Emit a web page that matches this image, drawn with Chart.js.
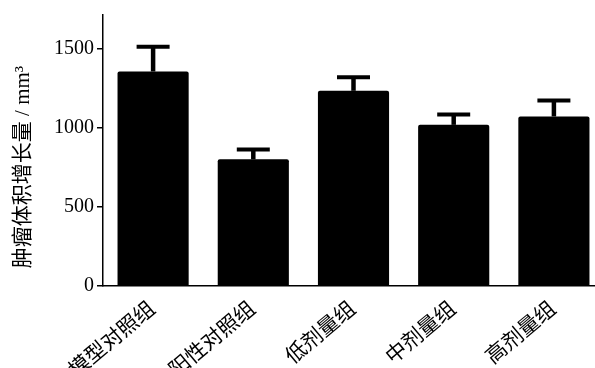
<!DOCTYPE html>
<html><head><meta charset="utf-8">
<script src="https://cdn.jsdelivr.net/npm/chart.js@4/dist/chart.umd.min.js"></script>
<style>html,body{margin:0;padding:0;overflow:hidden;background:#fff}#wrap{width:605px;height:368px}</style>
</head><body><div id="wrap"><canvas id="c"></canvas></div>
<script>
const categories = ['模型对照组','阳性对照组','低剂量组','中剂量组','高剂量组'];
const means = [1355, 800, 1233, 1018, 1071];
const errors = [157, 63, 86, 66, 101];
const yTicks = [0, 500, 1000, 1500];
const yTitle = '肿瘤体积增长量 / mm³';

const FONT = '"Liberation Serif", "Noto Sans CJK SC", serif';

const errPlugin = {
  id: 'errbars',
  afterDatasetsDraw(chart) {
    const ctx = chart.ctx, y = chart.scales.y;
    const meta = chart.getDatasetMeta(0);
    ctx.save();
    ctx.strokeStyle = '#000';
    meta.data.forEach((bar, i) => {
      const top = y.getPixelForValue(means[i] + errors[i]);
      const base = y.getPixelForValue(means[i]);
      ctx.lineWidth = 4.5;
      ctx.beginPath(); ctx.moveTo(bar.x, base); ctx.lineTo(bar.x, top); ctx.stroke();
      ctx.lineWidth = 4;
      ctx.beginPath(); ctx.moveTo(bar.x - 16.5, top); ctx.lineTo(bar.x + 16.5, top); ctx.stroke();
    });
    ctx.restore();
  },
  afterDraw(chart) {
    const ctx = chart.ctx;
    ctx.save();
    ctx.translate(23, 167);
    ctx.rotate(-Math.PI / 2);
    ctx.font = '21px ' + FONT;
    ctx.fillStyle = '#000';
    ctx.textAlign = 'center';
    ctx.textBaseline = 'middle';
    ctx.fillText(yTitle, 0, 0);
    ctx.restore();
  }
};

new Chart(document.getElementById('c'), {
  type: 'bar',
  data: { labels: categories, datasets: [{ data: means, backgroundColor: '#000', borderRadius: 2, barPercentage: 0.71, categoryPercentage: 1 }] },
  options: {
    responsive: true, maintainAspectRatio: false, animation: false,
    layout: { padding: { left: 0, right: 1, top: 14, bottom: 0 } },
    plugins: { legend: { display: false }, tooltip: { enabled: false } },
    scales: {
      x: {
        grid: { display: false },
        border: { display: true, color: '#000', width: 1.5 },
        ticks: { color: '#000', font: { family: FONT, size: 21 }, minRotation: 40, maxRotation: 40, autoSkip: false, padding: 3 },
        afterFit(s) { s.height = 82; }
      },
      y: {
        min: 0, max: 1712,
        afterBuildTicks(s) { s.ticks = yTicks.map(v => ({ value: v })); },
        grid: { display: true, drawOnChartArea: false, drawTicks: true, tickLength: 6, color: '#000', lineWidth: 1.5 },
        border: { display: true, color: '#000', width: 1.5 },
        ticks: { color: '#000', font: { family: FONT, size: 20 }, padding: 3, callback: v => String(v) },
        afterFit(s) { s.width = 103; }
      }
    }
  },
  plugins: [errPlugin]
});
</script></body></html>
